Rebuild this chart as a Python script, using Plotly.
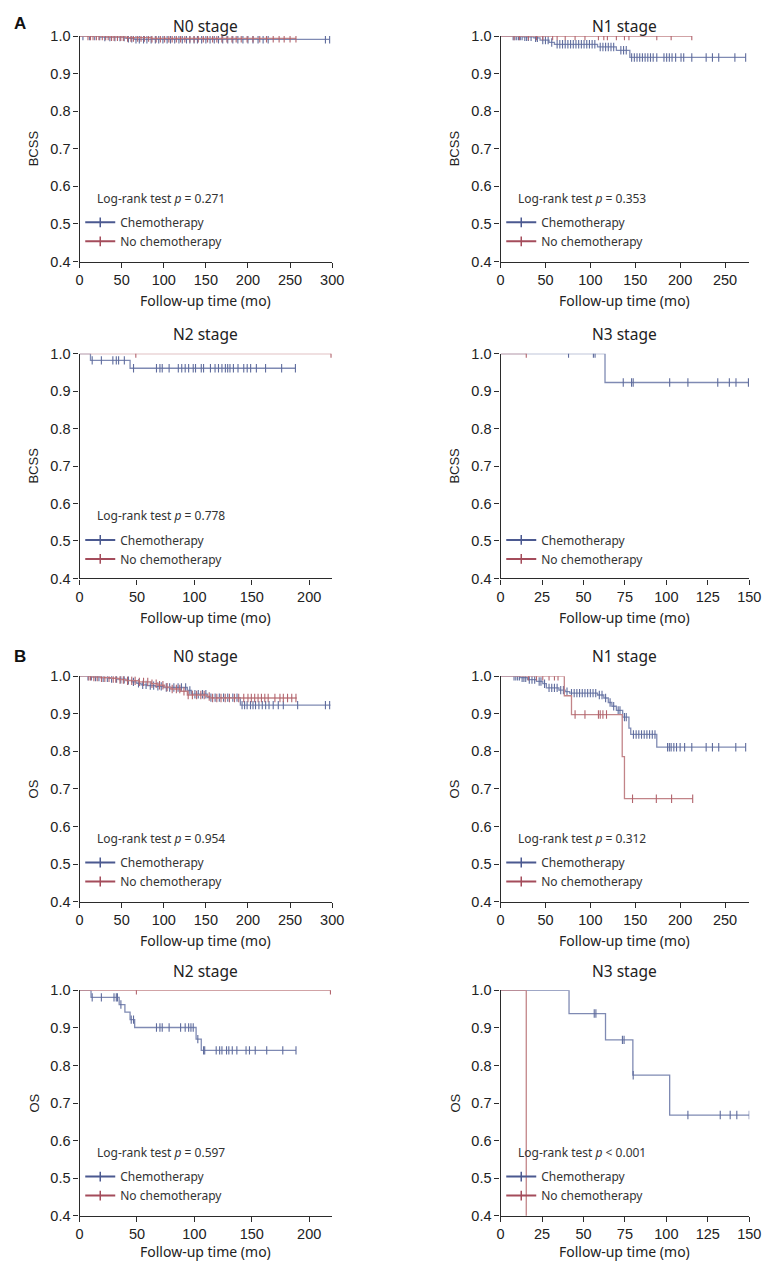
import plotly.graph_objects as go

# page is 781x1276; the browser adds an 8px body margin, so the figure is 765x1260
PAGE_W, PAGE_H = 781, 1276
OFF = 8
W, H = PAGE_W - 2 * OFF, PAGE_H - 2 * OFF

# ---------------- data ----------------
stage_titles = ["N0 stage", "N1 stage", "N2 stage", "N3 stage",
                "N0 stage", "N1 stage", "N2 stage", "N3 stage"]
y_titles = ["BCSS", "BCSS", "BCSS", "BCSS", "OS", "OS", "OS", "OS"]
x_max = [300, 277, 220, 150, 300, 277, 220, 150]
x_dtick = [50, 50, 50, 25, 50, 50, 50, 25]
p_texts = ["= 0.271", "= 0.353", "= 0.778", None,
           "= 0.954", "= 0.312", "= 0.597", "< 0.001"]
series_names = ["Chemotherapy", "No chemotherapy"]

# A - N0 (BCSS)
a_n0_chemo_t = [0, 25, 55, 65]
a_n0_chemo_s = [1.0, 0.997, 0.994, 0.991]
a_n0_chemo_end = 297
a_n0_chemo_cens = [4, 12, 18, 24, 30, 36, 42, 48, 53, 58, 62, 67, 71, 76, 80, 85, 90, 94,
                   99, 104, 108, 113, 118, 122, 127, 131, 136, 140, 145, 150, 155, 160,
                   165, 170, 176, 182, 188, 194, 200, 206, 212, 218, 224, 292, 297]
a_n0_none_t = [0, 35, 55, 85]
a_n0_none_s = [1.0, 0.998, 0.996, 0.994]
a_n0_none_end = 257
a_n0_none_cens = [10, 13, 16, 20, 23, 27, 31, 34, 38, 41, 45, 49, 52, 57, 61, 64, 69, 73,
                  77, 82, 86, 91, 96, 101, 106, 110, 115, 120, 125, 131, 136, 141, 147,
                  152, 158, 163, 169, 175, 181, 186, 192, 199, 206, 214, 222, 230, 237,
                  243, 250, 257]

# A - N1 (BCSS)
a_n1_chemo_t = [0, 25, 37, 44, 54, 60, 108, 129, 144]
a_n1_chemo_s = [1.0, 0.998, 0.995, 0.989, 0.983, 0.978, 0.971, 0.962, 0.943]
a_n1_chemo_end = 273
a_n1_chemo_cens = [14, 16, 18, 20, 22, 24, 27, 29, 31, 34, 39, 41, 47, 50, 53, 57, 63, 66,
                   69, 72, 75, 78, 81, 84, 87, 90, 93, 96, 99, 102, 105, 111, 114, 117,
                   120, 123, 126, 134, 137, 140, 146, 149, 152, 155, 158, 161, 164, 167,
                   170, 174, 182, 185, 188, 191, 195, 201, 204, 213, 229, 236, 243, 261, 273]
a_n1_none_t = [0]
a_n1_none_s = [1.0]
a_n1_none_end = 213
a_n1_none_cens = [15, 21, 31, 40, 47, 58, 63, 72, 83, 94, 109, 115, 119, 129, 138, 143,
                  174, 190, 213]

# A - N2 (BCSS)
a_n2_chemo_t = [0, 9.5, 44]
a_n2_chemo_s = [1.0, 0.982, 0.961]
a_n2_chemo_end = 188
a_n2_chemo_cens = [11, 19, 29, 32, 34, 39, 47, 67, 70, 72, 78, 86, 89, 92, 95, 99, 101,
                   106, 108, 114, 118, 121, 124, 127, 129, 131, 134, 138, 143, 146, 149,
                   154, 162, 176, 188]
a_n2_none_t = [0]
a_n2_none_s = [1.0]
a_n2_none_end = 219
a_n2_none_cens = [49, 219]

# A - N3 (BCSS)
a_n3_chemo_t = [0, 63]
a_n3_chemo_s = [1.0, 0.923]
a_n3_chemo_end = 149.5
a_n3_chemo_cens = [41, 56, 57, 74, 79, 80, 102, 113, 131, 138, 142, 149.5]
a_n3_none_t = [0]
a_n3_none_s = [1.0]
a_n3_none_end = 15.5
a_n3_none_cens = [15.5]

# B - N0 (OS)
b_n0_chemo_t = [0, 15, 25, 35, 45, 55, 62, 68, 73, 80, 90, 100, 128, 133, 152, 191]
b_n0_chemo_s = [1.0, 0.998, 0.996, 0.994, 0.992, 0.989, 0.985, 0.981, 0.977, 0.975,
                0.973, 0.970, 0.962, 0.952, 0.943, 0.923]
b_n0_chemo_end = 298
b_n0_chemo_cens = [10, 14, 19, 23, 28, 33, 38, 44, 49, 53, 58, 64, 70, 75, 79, 84, 88, 93,
                   97, 103, 107, 112, 117, 121, 126, 131, 137, 141, 146, 150, 156, 161,
                   166, 171, 176, 182, 187, 193, 196, 199, 203, 206, 209, 213, 217, 221,
                   225, 230, 236, 242, 259, 292, 297]
b_n0_none_t = [0, 15, 25, 38, 47, 55, 70, 85, 93, 101, 108, 120, 128, 151, 155]
b_n0_none_s = [1.0, 0.998, 0.996, 0.994, 0.991, 0.988, 0.985, 0.980, 0.976, 0.971,
               0.966, 0.960, 0.950, 0.946, 0.942]
b_n0_none_end = 258
b_n0_none_cens = [11, 13, 17, 21, 26, 30, 35, 40, 43, 48, 52, 57, 62, 66, 71, 76, 81, 86,
                  91, 95, 99, 104, 110, 115, 119, 124, 129, 134, 139, 144, 148, 154, 158,
                  163, 168, 173, 178, 184, 189, 195, 200, 204, 208, 212, 216, 220, 224,
                  232, 238, 242, 247, 252, 257]

# B - N1 (OS)
b_n1_chemo_t = [0, 22, 30, 40, 47, 51, 65, 72, 77, 108, 115, 120, 124, 129, 136, 143, 145, 174]
b_n1_chemo_s = [1.0, 0.996, 0.991, 0.986, 0.980, 0.969, 0.963, 0.959, 0.955, 0.950,
                0.942, 0.930, 0.920, 0.909, 0.891, 0.862, 0.845, 0.811]
b_n1_chemo_end = 273
b_n1_chemo_cens = [15, 17, 19, 21, 24, 26, 28, 32, 35, 38, 43, 45, 49, 54, 57, 60, 63, 67,
                   70, 74, 79, 82, 85, 88, 91, 94, 97, 100, 103, 106, 110, 113, 117, 122,
                   126, 131, 133, 138, 140, 148, 151, 154, 157, 160, 163, 166, 169, 172,
                   186, 188, 190, 193, 196, 200, 205, 213, 229, 236, 243, 262, 273]
b_n1_none_t = [0, 71, 79, 135.5, 138]
b_n1_none_s = [1.0, 0.948, 0.898, 0.786, 0.674]
b_n1_none_end = 214
b_n1_none_cens = [31, 40, 47, 54, 60, 64, 83, 94, 109, 111, 114, 118, 147, 173.5, 190.5, 214]

# B - N2 (OS)
b_n2_chemo_t = [0, 10, 34.5, 39.5, 44, 48, 101.5, 106]
b_n2_chemo_s = [1.0, 0.981, 0.962, 0.942, 0.922, 0.901, 0.870, 0.840]
b_n2_chemo_end = 188.5
b_n2_chemo_cens = [11, 19, 30, 32, 33, 36, 45, 47, 67, 70, 72, 78, 88, 92, 95, 97, 99, 103,
                   108, 109, 119, 122, 124, 128, 130, 133, 137, 145, 148, 153, 163, 177, 188.5]
b_n2_none_t = [0]
b_n2_none_s = [1.0]
b_n2_none_end = 218.5
b_n2_none_cens = [49.5, 218.5]

# B - N3 (OS)
b_n3_chemo_t = [0, 41.3, 63.3, 79.8, 102]
b_n3_chemo_s = [1.0, 0.938, 0.868, 0.774, 0.668]
b_n3_chemo_end = 150
b_n3_chemo_cens = [56.5, 57.5, 73.5, 74.5, 80, 113, 132.5, 138.5, 142.5, 150]
b_n3_none_t = [0, 15.5]
b_n3_none_s = [1.0, 0.0]
b_n3_none_end = 15.5
b_n3_none_cens = []

chemo_data = [
    (a_n0_chemo_t, a_n0_chemo_s, a_n0_chemo_end, a_n0_chemo_cens),
    (a_n1_chemo_t, a_n1_chemo_s, a_n1_chemo_end, a_n1_chemo_cens),
    (a_n2_chemo_t, a_n2_chemo_s, a_n2_chemo_end, a_n2_chemo_cens),
    (a_n3_chemo_t, a_n3_chemo_s, a_n3_chemo_end, a_n3_chemo_cens),
    (b_n0_chemo_t, b_n0_chemo_s, b_n0_chemo_end, b_n0_chemo_cens),
    (b_n1_chemo_t, b_n1_chemo_s, b_n1_chemo_end, b_n1_chemo_cens),
    (b_n2_chemo_t, b_n2_chemo_s, b_n2_chemo_end, b_n2_chemo_cens),
    (b_n3_chemo_t, b_n3_chemo_s, b_n3_chemo_end, b_n3_chemo_cens),
]
none_data = [
    (a_n0_none_t, a_n0_none_s, a_n0_none_end, a_n0_none_cens),
    (a_n1_none_t, a_n1_none_s, a_n1_none_end, a_n1_none_cens),
    (a_n2_none_t, a_n2_none_s, a_n2_none_end, a_n2_none_cens),
    (a_n3_none_t, a_n3_none_s, a_n3_none_end, a_n3_none_cens),
    (b_n0_none_t, b_n0_none_s, b_n0_none_end, b_n0_none_cens),
    (b_n1_none_t, b_n1_none_s, b_n1_none_end, b_n1_none_cens),
    (b_n2_none_t, b_n2_none_s, b_n2_none_end, b_n2_none_cens),
    (b_n3_none_t, b_n3_none_s, b_n3_none_end, b_n3_none_cens),
]

# ---------------- styling / geometry (page pixel coordinates) ----------------
BLUE_LINE, BLUE_MARK, BLUE_LEG = "#7f8ab3", "#5f6c9d", "#4b5990"
RED_LINE, RED_MARK, RED_LEG = "#c28488", "#b2646d", "#a44c5b"
AX_COLOR = "#2b2b2b"
TICK_FONT = dict(family="Liberation Sans, Arial, sans-serif", size=14.5, color="#222222")
NOTO = "Noto Sans, sans-serif"

col_left = [77, 507]
col_right = [335, 761]
row_top = [28.3, 350, 676.7, 994.8]
row_bot = [256.7, 577.7, 905, 1223.2]


def px_x(p):
    return (p - OFF) / W


def px_y(p):
    return 1 - (p - OFF) / H


def surv_at(ts, ss, c):
    v = ss[0]
    for t, s in zip(ts, ss):
        if t <= c:
            v = s
    return v


fig = go.Figure()
layout = dict(
    width=W, height=H,
    margin=dict(l=0, r=0, t=0, b=0),
    paper_bgcolor="white", plot_bgcolor="white",
    showlegend=True,
)
annotations = []

for i in range(8):
    r, c = divmod(i, 2)
    sfx = "" if i == 0 else str(i + 1)
    xa, ya = "x" + sfx, "y" + sfx
    leg = "legend" + sfx
    L, R = col_left[c], col_right[c]
    T, B = row_top[r], row_bot[r]

    layout["xaxis" + sfx] = dict(
        domain=[px_x(L), px_x(R)], anchor=ya, range=[0, x_max[i]],
        dtick=x_dtick[i], tick0=0, showline=True, linecolor=AX_COLOR, linewidth=1.3,
        ticks="outside", ticklen=5, tickwidth=1.2, tickcolor=AX_COLOR,
        showgrid=False, zeroline=False, tickfont=TICK_FONT, fixedrange=True)
    layout["yaxis" + sfx] = dict(
        domain=[px_y(B), px_y(T)], anchor=xa, range=[0.4, 1.0],
        dtick=0.1, tick0=0.4, tickformat=".1f", showline=True, linecolor=AX_COLOR,
        linewidth=1.3, ticks="outside", ticklen=5, tickwidth=1.2, tickcolor=AX_COLOR,
        showgrid=False, zeroline=False, tickfont=TICK_FONT, fixedrange=True)

    for (ts, ss, end, cens), name, lc, mc, lg in [
        (chemo_data[i], series_names[0], BLUE_LINE, BLUE_MARK, BLUE_LEG),
        (none_data[i], series_names[1], RED_LINE, RED_MARK, RED_LEG),
    ]:
        xs = list(ts) + [end]
        ys = list(ss) + [ss[-1]]
        fig.add_trace(go.Scatter(
            x=xs, y=ys, mode="lines", line=dict(color=lc, width=1.3, shape="hv"),
            xaxis=xa, yaxis=ya, showlegend=False, hoverinfo="skip"))
        if cens:
            fig.add_trace(go.Scatter(
                x=cens, y=[surv_at(ts, ss, cc) for cc in cens], mode="markers",
                marker=dict(symbol="line-ns-open", size=6, color=mc,
                            line=dict(color=mc, width=1.1)),
                xaxis=xa, yaxis=ya, showlegend=False, hoverinfo="skip"))
        # legend entry
        fig.add_trace(go.Scatter(
            x=[None], y=[None], mode="lines+markers", name=name,
            line=dict(color=lg, width=2),
            marker=dict(symbol="line-ns-open", size=7, color=lg, line=dict(color=lg, width=1.5)),
            xaxis=xa, yaxis=ya, legend=leg, showlegend=True))

    layout[leg] = dict(
        x=px_x(L + 0.7), xanchor="left",
        y=px_y(T + 174.0), yanchor="top",
        bgcolor="rgba(0,0,0,0)", borderwidth=0,
        font=dict(family=NOTO, size=12, color="#333333"),
        itemwidth=30, tracegroupgap=0)

    cx = (L + R) / 2
    # stage title
    annotations.append(dict(
        x=px_x(cx), y=px_y(max(T - 20, 18)), xref="paper", yref="paper",
        text=stage_titles[i], showarrow=False, xanchor="center", yanchor="middle",
        font=dict(family=NOTO, size=15.5, color="#222222")))
    # x axis title
    annotations.append(dict(
        x=px_x(cx), y=px_y(min(B + 39.5, 1259)), xref="paper", yref="paper",
        text="Follow-up time (mo)", showarrow=False, xanchor="center", yanchor="middle",
        font=dict(family=NOTO, size=14, color="#222222")))
    # y axis title
    annotations.append(dict(
        x=px_x(L - 47), y=px_y((T + B) / 2), xref="paper", yref="paper",
        text=y_titles[i], showarrow=False, textangle=-90, xanchor="center", yanchor="middle",
        font=dict(family="Liberation Sans, Arial, sans-serif", size=13, color="#222222")))
    # log-rank text
    if p_texts[i]:
        annotations.append(dict(
            x=px_x(L + 15.5), y=px_y(T + 164.4), xref="paper", yref="paper",
            text="Log-rank test <i>p</i> " + p_texts[i], showarrow=False,
            xanchor="left", yanchor="middle",
            font=dict(family=NOTO, size=12, color="#333333")))

# panel letters
for letter, ypx in [("A", 16), ("B", 657)]:
    annotations.append(dict(
        x=px_x(OFF), y=px_y(ypx), xref="paper", yref="paper", text="<b>" + letter + "</b>",
        showarrow=False, xanchor="left", yanchor="middle",
        font=dict(family="Liberation Sans, Arial, sans-serif", size=17, color="#111111")))

layout["annotations"] = annotations
fig.update_layout(**layout)
fig.write_html("out.html", config={"displayModeBar": False})
